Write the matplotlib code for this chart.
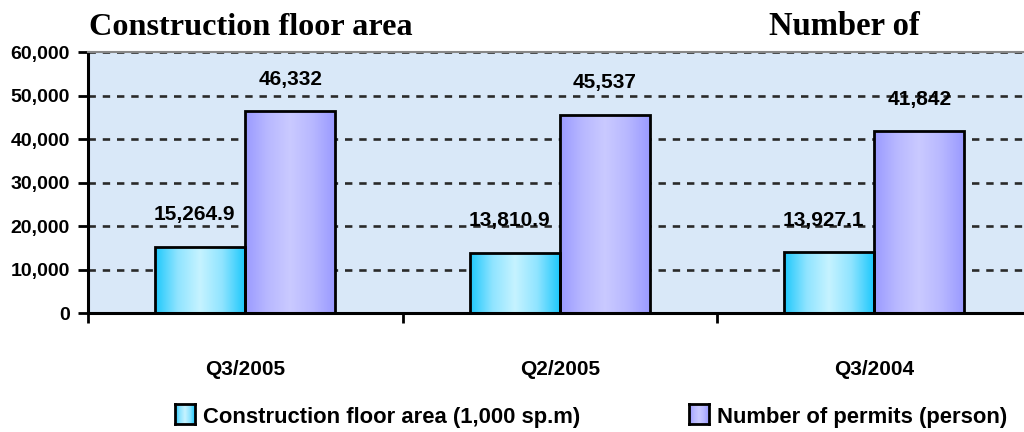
import numpy as np
import matplotlib.pyplot as plt
from matplotlib.colors import LinearSegmentedColormap

# [Data]______________________________________________________________________
quarters = ["Q3/2005", "Q2/2005", "Q3/2004"]
floor_area = [15264.9, 13810.9, 13927.1]
permits = [46332, 45537, 41842]
floor_labels = ["15,264.9", "13,810.9", "13,927.1"]
permit_labels = ["46,332", "45,537", "41,842"]
series_names = ["Construction floor area (1,000 sp.m)", "Number of permits (person)"]

# [Style]_____________________________________________________________________
plt.rcParams["font.family"] = ["Liberation Sans", "DejaVu Sans"]
plt.rcParams["font.weight"] = "bold"

cyan_cmap = LinearSegmentedColormap.from_list("cy", ["#1ec8fc", "#8fe4ff", "#c6f3ff", "#8fe4ff", "#1ec8fc"])
lav_cmap = LinearSegmentedColormap.from_list("lv", ["#9a9aff", "#b8b8ff", "#cacaff", "#b8b8ff", "#9a9aff"])
grad = np.linspace(0, 1, 256).reshape(1, -1)

fig = plt.figure(figsize=(10.24, 4.32), dpi=100)
ax = fig.add_axes([88 / 1024, 119 / 432, 943.5 / 1024, 261 / 432])
ax.set_facecolor("#d9e8f8")

x = np.arange(len(quarters))
w = 0.286


def gradient_bars(xs, vals, cmap):
    bars = ax.bar(xs, vals, width=w, align="edge", facecolor="none",
                  edgecolor="black", linewidth=2.0, zorder=3)
    for b in bars:
        im = ax.imshow(grad, cmap=cmap, aspect="auto", zorder=2.5,
                       extent=[b.get_x(), b.get_x() + b.get_width(), 0, b.get_height()])
        im.set_clip_path(b)
    return bars


gradient_bars(x - w, floor_area, cyan_cmap)
gradient_bars(x, permits, lav_cmap)

for i in range(len(quarters)):
    ax.annotate(floor_labels[i], (x[i] - w / 2, floor_area[i]), xytext=(-4, 23),
                textcoords="offset points", ha="center", va="center", fontsize=15, zorder=5)
    ax.annotate(permit_labels[i], (x[i] + w / 2, permits[i]), xytext=(0, 23),
                textcoords="offset points", ha="center", va="center", fontsize=15, zorder=5)

ax.set_xlim(-0.5, 2.5)
ax.set_ylim(0, 60000)
ax.set_yticks(np.arange(0, 60001, 10000))
ax.set_yticklabels([f"{v:,}" for v in range(0, 60001, 10000)], fontsize=14)
ax.yaxis.grid(True, color="#2a2a2a", linestyle=(0, (2.8, 2.6)), linewidth=1.9, zorder=1)
ax.set_axisbelow(True)

ax.set_xticks(x)
ax.set_xticklabels(quarters, fontsize=15)
ax.tick_params(axis="x", which="major", length=0, pad=34)
ax.set_xticks([-0.5, 0.5, 1.5, 2.5], minor=True)
ax.tick_params(axis="x", which="minor", length=7, width=2, direction="out")
ax.tick_params(axis="y", length=7, width=2, pad=6)

for s in ["left", "bottom"]:
    ax.spines[s].set_linewidth(2.2)
ax.spines["top"].set_color("#888888")
ax.spines["top"].set_linewidth(1.5)
ax.spines["right"].set_visible(False)

# [Titles]____________________________________________________________________
fig.text(251 / 1024, 1 - 35 / 432, "Construction floor area", ha="center", va="baseline",
         family=["Liberation Serif", "DejaVu Serif"], fontsize=23.2, weight="bold")
fig.text(844 / 1024, 1 - 35 / 432, "Number of", ha="center", va="baseline",
         family=["Liberation Serif", "DejaVu Serif"], fontsize=23.5, weight="bold")

# [Legend]____________________________________________________________________
for left, cmap, name in [(175, cyan_cmap, series_names[0]), (689, lav_cmap, series_names[1])]:
    lax = fig.add_axes([left / 1024, (432 - 424) / 432, 20 / 1024, 20 / 432])
    lax.imshow(grad, cmap=cmap, aspect="auto")
    lax.set_xticks([])
    lax.set_yticks([])
    for s in lax.spines.values():
        s.set_linewidth(2)
    fig.text((left + 28) / 1024, (432 - 423) / 432, name, ha="left", va="baseline", fontsize=15.8)

fig.savefig("out.png", dpi=100)
